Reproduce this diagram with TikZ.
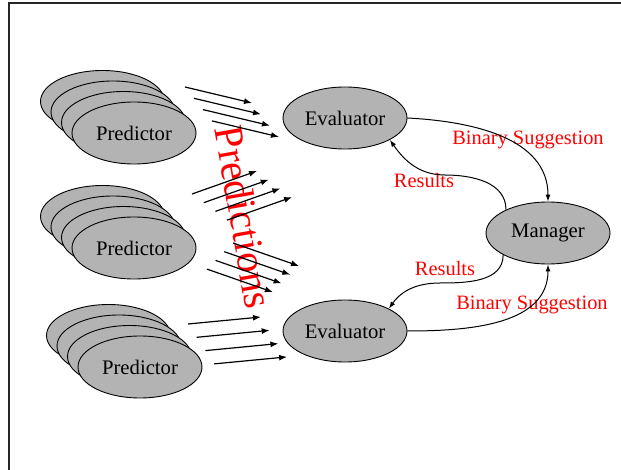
\documentclass[tikz,border=0pt]{standalone}
\usepackage{fontspec}
\setmainfont{Liberation Serif}
\usetikzlibrary{shapes.geometric}
\usetikzlibrary{arrows.meta}
\definecolor{unitgray}{RGB}{179,179,179}

\begin{document}
\begin{tikzpicture}[x=1pt,y=1pt]
\tikzset{unit/.style={ellipse,draw=black,fill=unitgray,line width=0.9pt,minimum width=124pt,minimum height=62pt,inner sep=0pt,font=\fontsize{20.7}{24}\selectfont}}
\tikzset{predarrow/.style={line width=1.2pt,-{Latex[length=8pt,width=6pt]}}}
\tikzset{link/.style={line width=1pt,-{Latex[length=7pt,width=5pt]}}}
\tikzset{redlabel/.style={text=red,inner sep=0pt,font=\fontsize{20.4}{22}\selectfont}}
\def\stackstep{10.5}
\useasboundingbox (0,0) rectangle (621,-470);
\draw[line width=1.2pt,black!85] (621,-3) -- (9,-3) -- (9,-470);

\foreach \n/\x/\y in {a/134/-133,b/134/-248,c/140/-367}{
  \foreach \k in {3,2,1}
    \node[unit] (p\n\k) at ({\x-\stackstep*\k},{\y+\stackstep*\k}) {};
  \node[unit] (p\n) at (\x,\y) {Predictor};
}
\node[unit] (eva) at (345,-118) {Evaluator};
\node[unit] (evb) at (345,-331) {Evaluator};
\node[unit] (mgr) at (548,-233) {Manager};

\node[redlabel,rotate=-80,font=\fontsize{41}{44}\selectfont] (pred) at (244,-217) {Predictions};
\node[redlabel] (bsa) at (528,-140) {Binary Suggestion};
\node[redlabel] (bsb) at (532,-305) {Binary Suggestion};
\node[redlabel] (rsa) at (424,-181) {Results};
\node[redlabel] (rsb) at (445,-269) {Results};

\coordinate (ga) at (185,-87);  \coordinate (ga') at (252,-103);
\coordinate (gb) at (192,-194); \coordinate (gb') at (257,-171);
\coordinate (gc) at (233,-243); \coordinate (gc') at (299,-266);
\coordinate (gd) at (188,-324); \coordinate (gd') at (261,-317);
\foreach \s/\dx/\dy in {ga/9/-11.3,gb/11.7/-8.7,gc/-8.7/-8.7,gd/8.7/-13.3}
  \foreach \i in {0,...,3}
    \draw[predarrow] ([shift={(\dx*\i,\dy*\i)}]\s) -- ([shift={(\dx*\i,\dy*\i)}]\s');

\coordinate (ra) at (445,-175);
\coordinate (rb) at (440,-283);
\draw[link] (eva.east) to[out=-3,in=90] (mgr.north);
\draw[link] (mgr.151) to[out=90,in=0] (ra) to[out=180,in=-55] (eva.334);
\draw[link] (mgr.206) to[out=-90,in=0] (rb) to[out=180,in=55] (evb.27);
\draw[link] (evb.east) to[out=0,in=-90] (mgr.south);
\end{tikzpicture}
\end{document}
